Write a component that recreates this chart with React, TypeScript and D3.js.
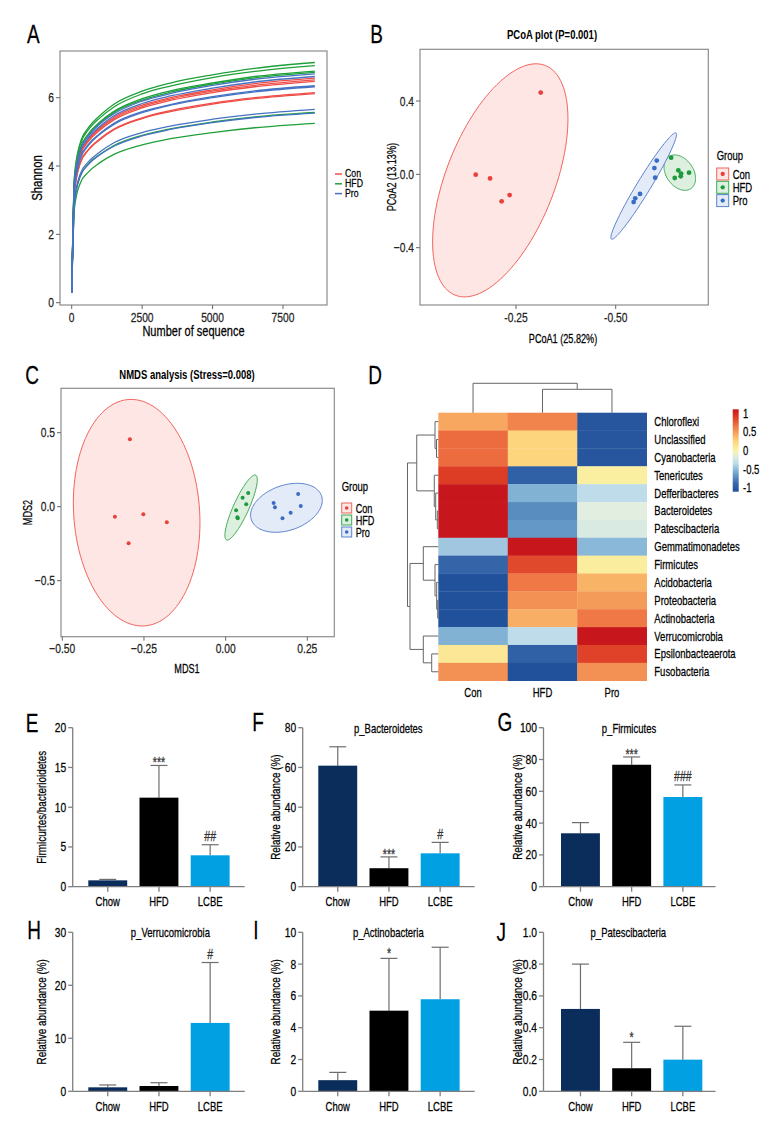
import React from "react";
import * as d3 from "d3";

const FONT = "'Liberation Sans', Arial, sans-serif";
const SX = 0.76;

// ---------- Panel A: rarefaction (Shannon) ----------
const rareDepths = [1, 100, 300, 600, 1000, 1500, 2500, 3500, 5000, 6500, 8630];
const rareCon = [
  [0.3, 3.48, 4.37, 4.80, 5.12, 5.43, 5.78, 6.00, 6.23, 6.41, 6.57],
  [0.3, 3.46, 4.34, 4.76, 5.09, 5.39, 5.74, 5.96, 6.19, 6.36, 6.52],
  [0.3, 3.43, 4.31, 4.73, 5.05, 5.35, 5.70, 5.92, 6.15, 6.32, 6.48],
  [0.3, 3.26, 4.09, 4.49, 4.80, 5.08, 5.41, 5.62, 5.84, 6.00, 6.15],
  [0.3, 3.24, 4.07, 4.47, 4.77, 5.06, 5.39, 5.59, 5.81, 5.97, 6.12],
];
const rareHfd = [
  [0.3, 3.73, 4.67, 5.13, 5.48, 5.81, 6.19, 6.43, 6.67, 6.86, 7.03],
  [0.3, 3.68, 4.62, 5.07, 5.41, 5.73, 6.11, 6.34, 6.59, 6.77, 6.94],
  [0.3, 3.59, 4.51, 4.95, 5.29, 5.60, 5.97, 6.20, 6.43, 6.62, 6.78],
  [0.3, 3.57, 4.48, 4.92, 5.26, 5.57, 5.93, 6.16, 6.40, 6.58, 6.74],
  [0.3, 2.95, 3.70, 4.07, 4.34, 4.60, 4.90, 5.09, 5.29, 5.44, 5.57],
  [0.3, 2.78, 3.49, 3.83, 4.10, 4.34, 4.62, 4.80, 4.98, 5.12, 5.25],
];
const rarePro = [
  [0.3, 3.55, 4.46, 4.89, 5.23, 5.53, 5.90, 6.12, 6.36, 6.54, 6.70],
  [0.3, 3.51, 4.40, 4.83, 5.16, 5.47, 5.83, 6.05, 6.28, 6.46, 6.62],
  [0.3, 3.37, 4.22, 4.64, 4.95, 5.25, 5.59, 5.80, 6.03, 6.20, 6.35],
  [0.3, 3.35, 4.20, 4.61, 4.93, 5.22, 5.56, 5.78, 6.00, 6.17, 6.32],
  [0.3, 3.00, 3.76, 4.13, 4.41, 4.68, 4.98, 5.17, 5.37, 5.52, 5.66],
  [0.3, 2.94, 3.69, 4.05, 4.33, 4.58, 4.88, 5.07, 5.27, 5.42, 5.55],
];
const rareXTicks = [0, 2500, 5000, 7500];
const rareYTicks = [0, 2, 4, 6];

const groupNames = ["Con", "HFD", "Pro"];

// ---------- Panel B: PCoA ----------
const pcoaCon = [[0.312, 0.446], [0.149, -0.002], [0.185, -0.022], [0.234, -0.113], [0.214, -0.147]];
const pcoaHfd = [[0.639, 0.091], [0.657, 0.022], [0.664, 0.004], [0.663, -0.011], [0.648, -0.02], [0.684, 0.009]];
const pcoaPro = [[0.603, 0.075], [0.597, 0.034], [0.599, -0.018], [0.561, -0.107], [0.549, -0.131], [0.545, -0.151]];
// ellipse: centre x, centre y, sd x, sd y, covariance (data units)
const pcoaEllCon = [0.2106, -0.0327, 0.1697, 0.6356, 0.057];
const pcoaEllHfd = [0.6607, 0.0093, 0.0396, 0.0966, -0.00125];
const pcoaEllPro = [0.5702, -0.0638, 0.0823, 0.2902, 0.02315];
const pcoaXTicks = [0.25, 0.5];
const pcoaXTickLabels = ["-0.25", "-0.50"];
const pcoaYTicks = [-0.4, 0, 0.4];

// ---------- Panel C: NMDS ----------
const nmdsCon = [[-0.293, 0.455], [-0.339, -0.068], [-0.252, -0.051], [-0.18, -0.105], [-0.297, -0.247]];
const nmdsHfd = [[0.069, 0.093], [0.052, 0.061], [0.063, 0.016], [0.032, -0.024], [0.036, -0.072], [0.037, -0.078]];
const nmdsPro = [[0.147, 0.025], [0.151, -0.004], [0.222, 0.086], [0.23, 0.005], [0.199, -0.041], [0.174, -0.078]];
const nmdsEllCon = [-0.2724, -0.0405, 0.1938, 0.7655, -0.01289];
const nmdsEllHfd = [0.0474, -0.0054, 0.0496, 0.2196, 0.00931];
const nmdsEllPro = [0.1861, -0.0074, 0.1097, 0.1655, 0.00548];
const nmdsXTicks = [-0.5, -0.25, 0, 0.25];
const nmdsYTicks = [-0.5, 0, 0.5];

// ---------- Panel D: heatmap ----------
const heatRows = [
  "Chloroflexi", "Unclassified", "Cyanobacteria", "Tenericutes", "Defferibacteres",
  "Bacteroidetes", "Patescibacteria", "Gemmatimonadetes", "Firmicutes", "Acidobacteria",
  "Proteobacteria", "Actinobacteria", "Verrucomicrobia", "Epsilonbacteaerota", "Fusobacteria",
];
const heatCols = ["Con", "HFD", "Pro"];
const heatValues = [
  [0.45, 0.6, -1.05],
  [0.7, 0.25, -1.05],
  [0.7, 0.25, -1.05],
  [0.9, -0.95, 0.03],
  [1.1, -0.55, -0.35],
  [1.1, -0.72, -0.15],
  [1.1, -0.67, -0.2],
  [-0.45, 1.1, -0.52],
  [-0.9, 0.85, 0.05],
  [-1.1, 0.65, 0.4],
  [-1.1, 0.55, 0.5],
  [-1.1, 0.42, 0.65],
  [-0.55, -0.35, 1.1],
  [0.1, -0.95, 0.88],
  [0.55, -1.1, 0.55],
];
const heatStops = [-1.1, -0.9, -0.6, -0.35, -0.15, 0, 0.25, 0.45, 0.65, 0.9, 1.1];
const heatStopColors = ["#22519B", "#3565A8", "#72A7CF", "#BEDCEA", "#E2EFE0", "#FAF3A6", "#FDD57D", "#F7A75F", "#EF7846", "#DE3D25", "#C8171C"];
const heatLegendTicks = [1, 0.5, 0, -0.5, -1];

type Tree = string | { h: number; c: [Tree, Tree] };
const rowTree: Tree = {
  h: 1.0,
  c: [
    {
      h: 0.7,
      c: [
        { h: 0.107, c: ["Chloroflexi", { h: 0.058, c: ["Unclassified", "Cyanobacteria"] }] },
        { h: 0.13, c: ["Tenericutes", { h: 0.084, c: ["Defferibacteres", { h: 0.032, c: ["Bacteroidetes", "Patescibacteria"] }] }] },
      ],
    },
    {
      h: 0.919,
      c: [
        { h: 0.487, c: ["Gemmatimonadetes", { h: 0.107, c: ["Firmicutes", { h: 0.052, c: ["Acidobacteria", { h: 0.02, c: ["Proteobacteria", "Actinobacteria"] }] }] }] },
        { h: 0.487, c: ["Verrucomicrobia", { h: 0.214, c: ["Epsilonbacteaerota", "Fusobacteria"] }] },
      ],
    },
  ],
};
const colTree: Tree = { h: 1.0, c: ["Con", { h: 0.796, c: ["HFD", "Pro"] }] };

// ---------- Panels E-J: bar charts ----------
const barGroups = ["Chow", "HFD", "LCBE"];
const eMean = [0.8, 11.2, 3.95];
const eSD = [0.12, 4.05, 1.33];
const eMarks = ["", "***", "##"];
const eTicks = [0, 5, 10, 15, 20];
const fMean = [60.9, 9.3, 16.8];
const fSD = [9.5, 5.7, 5.5];
const fMarks = ["", "***", "#"];
const fTicks = [0, 20, 40, 60, 80];
const gMean = [33.6, 76.7, 56.4];
const gSD = [6.7, 4.9, 7.6];
const gMarks = ["", "***", "###"];
const gTicks = [0, 20, 40, 60, 80, 100];
const hMean = [0.75, 1.0, 12.9];
const hSD = [0.45, 0.62, 11.4];
const hMarks = ["", "", "#"];
const hTicks = [0, 10, 20, 30];
const iMean = [0.7, 5.07, 5.79];
const iSD = [0.49, 3.29, 3.27];
const iMarks = ["", "*", ""];
const iTicks = [0, 2, 4, 6, 8, 10];
const jMean = [0.518, 0.145, 0.199];
const jSD = [0.282, 0.163, 0.21];
const jMarks = ["", "*", ""];
const jTicks = [0, 0.2, 0.4, 0.6, 0.8, 1.0];

const barColors = ["#0B2D5B", "#000000", "#00A0E3"];
const AXIS = "#7f7f7f";

function T(props: {
  x: number;
  y: number;
  rot?: number;
  anchor?: "start" | "middle" | "end";
  size?: number;
  weight?: string;
  fill?: string;
  baseline?: string;
  children: React.ReactNode;
}) {
  const { x, y, rot = 0, anchor = "start", size = 12, weight, fill = "#000", baseline = "central" } = props;
  return (
    <text
      transform={`translate(${x},${y}) rotate(${rot}) scale(${SX},1)`}
      textAnchor={anchor}
      dominantBaseline={baseline}
      fontSize={size}
      fontWeight={weight}
      fill={fill}
      stroke={weight ? "none" : fill}
      strokeWidth={0.25}
    >
      {props.children}
    </text>
  );
}

function ellipsePath(e: number[], xs: (v: number) => number, ys: (v: number) => number) {
  const [cx, cy, sx, sy, cov] = e;
  const l21 = cov / sx;
  const l22 = Math.sqrt(Math.max(0, sy * sy - l21 * l21));
  const pts: [number, number][] = d3.range(0, 121).map((i) => {
    const t = (i / 120) * 2 * Math.PI;
    return [xs(cx + sx * Math.cos(t)), ys(cy + l21 * Math.cos(t) + l22 * Math.sin(t))];
  });
  return (d3.line()(pts) || "") + "Z";
}

const ptColors = ["#E8413C", "#1E9A3C", "#3A6CC6"];
const ellStroke = ["#F2655E", "#3CAA55", "#5A82CF"];
const ellFill = ["#FDE6E4", "#DDF0E0", "#E4EBF8"];

function PanelA() {
  const x = d3.scaleLinear().domain([0, 7500]).range([71.7, 283]);
  const y = d3.scaleLinear().domain([0, 6]).range([302.7, 97.7]);
  const line = d3
    .line<number>()
    .x((_, i) => x(rareDepths[i]))
    .y((d) => y(d))
    .curve(d3.curveMonotoneX);
  const sets = [rareCon, rareHfd, rarePro];
  const lineCols = ["#EF4E48", "#1FA03A", "#4672C4"];
  return (
    <g>
      <rect x={60} y={51} width={267} height={254} fill="#fff" stroke="#8c8c8c" strokeWidth={1.2} />
      {sets.map((s, gi) =>
        s.map((c, ci) => <path key={gi + "-" + ci} d={line(c) || ""} fill="none" stroke={lineCols[gi]} strokeWidth={1.3} />)
      )}
      {rareXTicks.map((t) => (
        <g key={t}>
          <line x1={x(t)} x2={x(t)} y1={305} y2={309} stroke="#666" />
          <T x={x(t)} y={317} anchor="middle" size={13.5} fill="#222">{t}</T>
        </g>
      ))}
      {rareYTicks.map((t) => (
        <g key={t}>
          <line x1={56} x2={60} y1={y(t)} y2={y(t)} stroke="#666" />
          <T x={54} y={y(t)} anchor="end" size={13.5} fill="#222">{t}</T>
        </g>
      ))}
      <T x={193.5} y={331} anchor="middle" size={14.5}>Number of sequence</T>
      <T x={37} y={178} rot={-90} anchor="middle" size={15}>Shannon</T>
      {groupNames.map((g, i) => (
        <g key={g}>
          <line x1={335} x2={342} y1={174 + i * 9.8} y2={174 + i * 9.8} stroke={lineCols[i]} strokeWidth={1.5} />
          <T x={345} y={173.5 + i * 9.8} size={11.5}>{g}</T>
        </g>
      ))}
    </g>
  );
}

function ScatterPanel(props: {
  box: [number, number, number, number];
  xs: d3.ScaleLinear<number, number>;
  ys: d3.ScaleLinear<number, number>;
  pts: number[][][];
  ells: number[][];
  xTicks: number[];
  xLabels: string[];
  yTicks: number[];
  yLabels: string[];
  title: string;
  titleX: number;
  titleY: number;
  xTitle: string;
  xTitleX: number;
  xTitleY: number;
  yTitle: string;
  yTitleX: number;
  r: number;
  legend: { x: number; y: number; gap: number; size: number; labY: number; font: number };
}) {
  const { box, xs, ys, legend } = props;
  const [x0, y0, x1, y1] = box;
  return (
    <g>
      <rect x={x0} y={y0} width={x1 - x0} height={y1 - y0} fill="#fff" stroke="#8c8c8c" strokeWidth={1.2} />
      {props.ells.map((e, i) => (
        <path key={"e" + i} d={ellipsePath(e, xs, ys)} fill={ellFill[i]} stroke={ellStroke[i]} strokeWidth={1} />
      ))}
      {props.pts.map((g, gi) =>
        g.map((p, pi) => <circle key={gi + "-" + pi} cx={xs(p[0])} cy={ys(p[1])} r={props.r} fill={ptColors[gi]} />)
      )}
      {props.xTicks.map((t, i) => (
        <g key={"x" + i}>
          <line x1={xs(t)} x2={xs(t)} y1={y1} y2={y1 + 4} stroke="#666" />
          <T x={xs(t)} y={y1 + 12} anchor="middle" size={13.5} fill="#222">{props.xLabels[i]}</T>
        </g>
      ))}
      {props.yTicks.map((t, i) => (
        <g key={"y" + i}>
          <line x1={x0 - 4} x2={x0} y1={ys(t)} y2={ys(t)} stroke="#666" />
          <T x={x0 - 6} y={ys(t)} anchor="end" size={13.5} fill="#222">{props.yLabels[i]}</T>
        </g>
      ))}
      <T x={props.titleX} y={props.titleY} anchor="middle" size={12.5} weight="bold">{props.title}</T>
      <T x={props.xTitleX} y={props.xTitleY} anchor="middle" size={12}>{props.xTitle}</T>
      <T x={props.yTitleX} y={(y0 + y1) / 2} rot={-90} anchor="middle" size={12}>{props.yTitle}</T>
      <T x={legend.x} y={legend.y} size={12.5}>Group</T>
      {groupNames.map((g, i) => {
        const cy = legend.labY + i * legend.gap;
        return (
          <g key={g}>
            <rect x={legend.x} y={cy - legend.size / 2} width={legend.size} height={legend.size} fill={ellFill[i]} stroke={ellStroke[i]} strokeWidth={1} />
            <circle cx={legend.x + legend.size / 2} cy={cy} r={props.r * 0.9} fill={ptColors[i]} />
            <T x={legend.x + legend.size + 4} y={cy} size={legend.font}>{g}</T>
          </g>
        );
      })}
    </g>
  );
}

function PanelB() {
  const xs = d3.scaleLinear().domain([0.25, 0.5]).range([516, 615.7]);
  const ys = d3.scaleLinear().domain([-0.4, 0.4]).range([247.7, 101]);
  return (
    <ScatterPanel
      box={[420, 49.3, 708.3, 305]}
      xs={xs}
      ys={ys}
      pts={[pcoaCon, pcoaHfd, pcoaPro]}
      ells={[pcoaEllCon, pcoaEllHfd, pcoaEllPro]}
      xTicks={pcoaXTicks}
      xLabels={pcoaXTickLabels}
      yTicks={pcoaYTicks}
      yLabels={pcoaYTicks.map((v) => d3.format(".1f")(v))}
      title="PCoA plot (P=0.001)"
      titleX={552}
      titleY={34}
      xTitle="PCoA1 (25.82%)"
      xTitleX={563}
      xTitleY={338}
      yTitle="PCoA2 (13.13%)"
      yTitleX={391}
      r={2.4}
      legend={{ x: 716.7, y: 155, gap: 13.3, size: 12, labY: 174, font: 12.5 }}
    />
  );
}

function PanelC() {
  const xs = d3.scaleLinear().domain([-0.5, 0.25]).range([62.3, 307.3]);
  const ys = d3.scaleLinear().domain([-0.5, 0.5]).range([580.7, 432.7]);
  return (
    <ScatterPanel
      box={[61, 388.3, 334.3, 636.7]}
      xs={xs}
      ys={ys}
      pts={[nmdsCon, nmdsHfd, nmdsPro]}
      ells={[nmdsEllCon, nmdsEllHfd, nmdsEllPro]}
      xTicks={nmdsXTicks}
      xLabels={nmdsXTicks.map((v) => d3.format(".2f")(v))}
      yTicks={nmdsYTicks}
      yLabels={nmdsYTicks.map((v) => d3.format(".1f")(v))}
      title="NMDS analysis (Stress=0.008)"
      titleX={187}
      titleY={374}
      xTitle="MDS1"
      xTitleX={187}
      xTitleY={668}
      yTitle="MDS2"
      yTitleX={27}
      r={2}
      legend={{ x: 341.7, y: 486.7, gap: 12, size: 10, labY: 508, font: 12 }}
    />
  );
}

function layoutTree(
  t: Tree,
  leaf: (name: string) => number,
  hs: (h: number) => number,
  segs: number[][]
): { p: number; v: number } {
  if (typeof t === "string") return { p: leaf(t), v: hs(0) };
  const a = layoutTree(t.c[0], leaf, hs, segs);
  const b = layoutTree(t.c[1], leaf, hs, segs);
  const v = hs(t.h);
  segs.push([a.p, a.v, a.p, v]);
  segs.push([b.p, b.v, b.p, v]);
  segs.push([a.p, v, b.p, v]);
  return { p: (a.p + b.p) / 2, v };
}

function PanelD() {
  const xb = d3.scaleBand().domain(heatCols).range([438.3, 646.7]);
  const yb = d3.scaleBand().domain(heatRows).range([412.7, 680.7]);
  const color = d3.scaleLinear<string>().domain(heatStops).range(heatStopColors).clamp(true);
  const rowSegs: number[][] = [];
  layoutTree(rowTree, (n) => (yb(n) || 0) + yb.bandwidth() / 2, d3.scaleLinear().domain([0, 1]).range([438.3, 407.5]), rowSegs);
  const colSegs: number[][] = [];
  layoutTree(colTree, (n) => (xb(n) || 0) + xb.bandwidth() / 2, d3.scaleLinear().domain([0, 1]).range([412.7, 383.3]), colSegs);
  const leg = d3.scaleLinear().domain([-1.11, 1.11]).range([491.7, 409.3]);
  const gradStops = d3.range(0, 21).map((i) => -1.11 + (i / 20) * 2.22);
  return (
    <g>
      <defs>
        <linearGradient id="hmgrad" x1="0" y1="1" x2="0" y2="0">
          {gradStops.map((v, i) => (
            <stop key={i} offset={`${(i / 20) * 100}%`} stopColor={color(v)} />
          ))}
        </linearGradient>
      </defs>
      {heatValues.map((row, ri) =>
        row.map((v, ci) => (
          <rect
            key={ri + "-" + ci}
            x={xb(heatCols[ci])}
            y={yb(heatRows[ri])}
            width={xb.bandwidth() + 0.3}
            height={yb.bandwidth() + 0.3}
            fill={color(v)}
          />
        ))
      )}
      {rowSegs.map((s, i) => (
        <line key={"r" + i} x1={s[1]} y1={s[0]} x2={s[3]} y2={s[2]} stroke="#666" strokeWidth={1} />
      ))}
      {colSegs.map((s, i) => (
        <line key={"c" + i} x1={s[0]} y1={s[1]} x2={s[2]} y2={s[3]} stroke="#666" strokeWidth={1} />
      ))}
      {heatRows.map((r) => (
        <T key={r} x={654.3} y={(yb(r) || 0) + yb.bandwidth() / 2} size={12.5}>{r}</T>
      ))}
      {heatCols.map((c) => (
        <T key={c} x={(xb(c) || 0) + xb.bandwidth() / 2} y={692} anchor="middle" size={12.5}>{c}</T>
      ))}
      <rect x={732.7} y={409.3} width={6} height={82.4} fill="url(#hmgrad)" />
      {heatLegendTicks.map((t) => (
        <T key={t} x={743} y={leg(t)} size={12.5}>{t}</T>
      ))}
    </g>
  );
}

function BarPanel(props: {
  axisX: number;
  y0: number;
  yTop: number;
  ticks: number[];
  fmt: (v: number) => string;
  mean: number[];
  sd: number[];
  marks: string[];
  title: string;
  titleX: number;
  yTitle: string;
  yTitleX: number;
  barStart: number;
}) {
  const { axisX, y0, yTop, ticks } = props;
  const y = d3.scaleLinear().domain([0, ticks[ticks.length - 1]]).range([y0, yTop]);
  const off = props.barStart - 0.12 * 51.2;
  const x = d3
    .scaleBand()
    .domain(barGroups)
    .range([axisX + off, axisX + off + 153.6])
    .paddingInner(0.24)
    .paddingOuter(0.12);
  const markOffset = (m: string) => (m === "***" ? 2 : m === "*" ? 0 : -3.5);
  return (
    <g>
      {barGroups.map((g, i) => {
        const cx = (x(g) || 0) + x.bandwidth() / 2;
        const top = y(props.mean[i]);
        const cap = y(props.mean[i] + props.sd[i]);
        return (
          <g key={g}>
            <line x1={cx} x2={cx} y1={top} y2={cap} stroke="#6e6e6e" strokeWidth={1.2} />
            <line x1={cx - 8.5} x2={cx + 8.5} y1={cap} y2={cap} stroke="#6e6e6e" strokeWidth={1.2} />
            <rect x={x(g)} y={top} width={x.bandwidth()} height={y0 - top} fill={barColors[i]} />
            {props.marks[i] && (
              <T x={cx} y={cap + markOffset(props.marks[i])} anchor="middle" size={14} fill="#333" baseline="auto">{props.marks[i]}</T>
            )}
            <line x1={cx} x2={cx} y1={y0} y2={y0 + 5} stroke={AXIS} strokeWidth={1.3} />
            <T x={cx} y={y0 + 15} anchor="middle" size={12.5}>{g}</T>
          </g>
        );
      })}
      <line x1={axisX} x2={axisX} y1={yTop} y2={y0} stroke={AXIS} strokeWidth={1.3} />
      <line x1={axisX} x2={axisX + 172} y1={y0} y2={y0} stroke={AXIS} strokeWidth={1.3} />
      {ticks.map((t) => (
        <g key={t}>
          <line x1={axisX - 4.5} x2={axisX} y1={y(t)} y2={y(t)} stroke={AXIS} strokeWidth={1.3} />
          <T x={axisX - 6.5} y={y(t)} anchor="end" size={13.5}>{props.fmt(t)}</T>
        </g>
      ))}
      {props.title && (
        <T x={props.titleX} y={yTop + 0.5} anchor="middle" size={12.5}>{props.title}</T>
      )}
      <T x={props.yTitleX} y={(y0 + yTop) / 2} rot={-90} anchor="middle" size={13}>{props.yTitle}</T>
    </g>
  );
}

const letters: [string, number, number][] = [
  ["A", 33.3, 35],
  ["B", 376.7, 35],
  ["C", 32, 376],
  ["D", 375, 376],
  ["E", 32.2, 723.3],
  ["F", 258, 723],
  ["G", 505, 723],
  ["H", 34.2, 931],
  ["I", 256, 931],
  ["J", 501.3, 933],
];

export default function App() {
  const f0 = d3.format("d");
  const f1 = d3.format(".1f");
  return (
    <svg
      width={780}
      height={1140}
      style={{ position: "absolute", left: 0, top: 0, background: "#fff" }}
      fontFamily={FONT}
    >
      <rect width={780} height={1140} fill="#fff" />
      <PanelA />
      <PanelB />
      <PanelC />
      <PanelD />
      <BarPanel axisX={72.7} y0={886.7} yTop={727.7} ticks={eTicks} fmt={f0} mean={eMean} sd={eSD} marks={eMarks} title="" titleX={0} yTitle="Firmicurtes/bacterioidetes" yTitleX={41.7} barStart={15.6} />
      <BarPanel axisX={302.7} y0={886.7} yTop={727.7} ticks={fTicks} fmt={f0} mean={fMean} sd={fSD} marks={fMarks} title="p_Bacteroidetes" titleX={388.3} yTitle="Relative abundance (%)" yTitleX={275} barStart={15.6} />
      <BarPanel axisX={543.5} y0={886.7} yTop={727.7} ticks={gTicks} fmt={f0} mean={gMean} sd={gSD} marks={gMarks} title="p_Firmicutes" titleX={629} yTitle="Relative abundance (%)" yTitleX={517} barStart={17.5} />
      <BarPanel axisX={72.7} y0={1091.3} yTop={932.3} ticks={hTicks} fmt={f0} mean={hMean} sd={hSD} marks={hMarks} title="p_Verrucomicrobia" titleX={170.4} yTitle="Relative abundance (%)" yTitleX={41.7} barStart={15.6} />
      <BarPanel axisX={302.7} y0={1091.3} yTop={932.3} ticks={iTicks} fmt={f0} mean={iMean} sd={iSD} marks={iMarks} title="p_Actinobacteria" titleX={388.3} yTitle="Relative abundance (%)" yTitleX={275} barStart={15.6} />
      <BarPanel axisX={543.5} y0={1091.3} yTop={932.3} ticks={jTicks} fmt={f1} mean={jMean} sd={jSD} marks={jMarks} title="p_Patescibacteria" titleX={628.3} yTitle="Relative abundance (%)" yTitleX={517} barStart={17.5} />
      {letters.map(([l, x, y]) => (
        <T key={l} x={x} y={y} anchor="middle" size={25} fill="#000">{l}</T>
      ))}
    </svg>
  );
}
